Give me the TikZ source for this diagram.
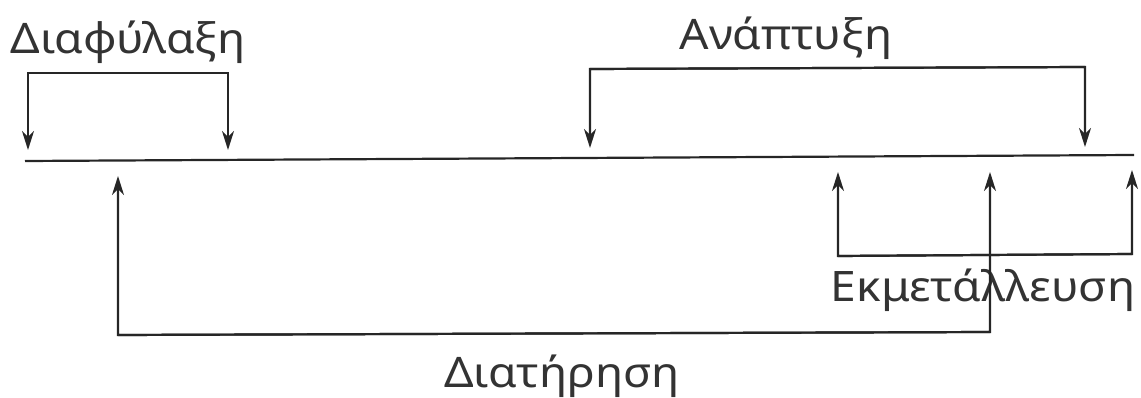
\documentclass[tikz,border=0pt]{standalone}
\usepackage{fontspec}
\setmainfont{Noto Sans}
\usetikzlibrary{arrows.meta}
\tikzset{
  ln/.style={line width=2.2pt, draw=black!85},
  arr/.style={ln, -{Stealth[length=19pt,width=12pt,inset=6pt]}},
  lbl/.style={font=\fontsize{42}{46}\selectfont, text=black!80, inner sep=0pt, xscale=1.1}
}
\begin{document}
\begin{tikzpicture}[x=1pt,y=-1pt]
\useasboundingbox (0,0) rectangle (1141,398);
% main axis
\coordinate (L) at (25,161);
\coordinate (R) at (1134,155);
\draw[ln] (L) -- (R);
% labels
\node[lbl] (diaf) at (128,42) {Διαφύλαξη};
\node[lbl] (anapt) at (786,38) {Ανάπτυξη};
\node[lbl] (ekm) at (983,290) {Εκμετάλλευση};
\node[lbl] (diat) at (562,376) {Διατήρηση};
% Διαφύλαξη bracket
\coordinate (d1) at (28,73); \coordinate (d2) at (228,73);
\coordinate (d1t) at (28,150); \coordinate (d2t) at (228,150);
\draw[arr] (d2) -- (d1) -- (d1t);
\draw[arr] (d1) -- (d2) -- (d2t);
% Ανάπτυξη bracket
\coordinate (a1) at (590,69); \coordinate (a2) at (1085,67);
\coordinate (a1t) at (590,148); \coordinate (a2t) at (1085,147);
\draw[arr] (a2) -- (a1) -- (a1t);
\draw[arr] (a1) -- (a2) -- (a2t);
% Εκμετάλλευση bracket
\coordinate (e1) at (838,256); \coordinate (e3) at (1132,254);
\coordinate (e1t) at (838,172); \coordinate (e3t) at (1132,170);
\draw[arr] (e3) -- (e1) -- (e1t);
\draw[arr] (e1) -- (e3) -- (e3t);
% Διατήρηση bracket
\coordinate (t1) at (118,335); \coordinate (t2) at (990,332);
\coordinate (t1t) at (118,176); \coordinate (t2t) at (990,172);
\draw[arr] (t2) -- (t1) -- (t1t);
\draw[arr] (t1) -- (t2) -- (t2t);
\end{tikzpicture}
\end{document}
